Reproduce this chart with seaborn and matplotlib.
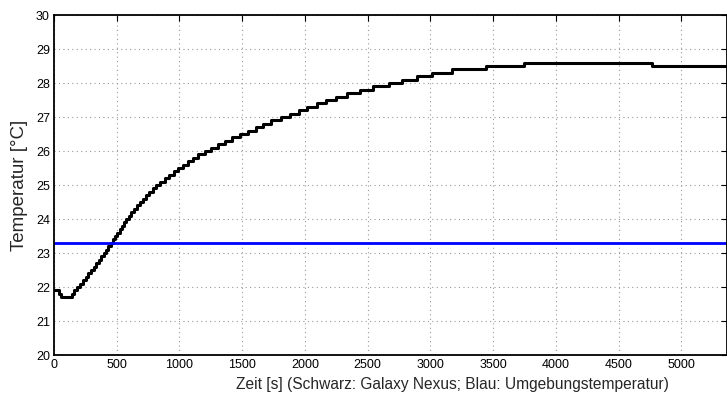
import matplotlib
matplotlib.use("Agg")
import matplotlib.pyplot as plt
from matplotlib import font_manager
import seaborn as sns
import pandas as pd

# Phone temperature, logged in 0.1 °C steps: time [s] at which each new reading starts
step_times = [0, 37, 53, 141, 162, 185,
              210, 231, 252, 273, 294, 315, 336, 356, 376, 396,
              414, 432, 451, 469, 488, 506, 524, 542, 560, 577,
              596, 616, 638, 660, 683, 707, 732, 758, 786, 815,
              848, 882, 917, 953, 990, 1028, 1067, 1108, 1150, 1205,
              1255, 1305, 1360, 1420, 1480, 1545, 1611,
              1664, 1728, 1808, 1877, 1956, 2020, 2100, 2169, 2249, 2339,
              2435, 2546, 2674, 2772, 2892, 3011, 3171, 3445, 3748, 4766, 5360]
step_temps = [21.9, 21.8, 21.7, 21.8, 21.9, 22.0,
              22.1, 22.2, 22.3, 22.4, 22.5, 22.6, 22.7, 22.8, 22.9, 23.0,
              23.1, 23.2, 23.3, 23.4, 23.5, 23.6, 23.7, 23.8, 23.9, 24.0,
              24.1, 24.2, 24.3, 24.4, 24.5, 24.6, 24.7, 24.8, 24.9, 25.0,
              25.1, 25.2, 25.3, 25.4, 25.5, 25.6, 25.7, 25.8, 25.9, 26.0,
              26.1, 26.2, 26.3, 26.4, 26.5, 26.6, 26.7,
              26.8, 26.9, 27.0, 27.1, 27.2, 27.3, 27.4, 27.5, 27.6, 27.7,
              27.8, 27.9, 28.0, 28.1, 28.2, 28.3, 28.4, 28.5, 28.6, 28.5, 28.5]

# Ambient temperature, constant over the run
ambient_times = [0, 5360]
ambient_temps = [23.3, 23.3]

x_ticks = [0, 500, 1000, 1500, 2000, 2500, 3000, 3500, 4000, 4500, 5000]
y_ticks = [20, 21, 22, 23, 24, 25, 26, 27, 28, 29, 30]

phone = pd.DataFrame({"t": step_times, "temp": step_temps})
ambient = pd.DataFrame({"t": ambient_times, "temp": ambient_temps})

sns.set_style("white")
plt.rcParams["font.family"] = ["Liberation Sans", "DejaVu Sans"]

installed = {f.name for f in font_manager.fontManager.ttflist}
if "Liberation Sans Narrow" in installed:
    xlabel_font = dict(family=["Liberation Sans Narrow", "Liberation Sans"], fontsize=13)
else:
    xlabel_font = dict(family=["Liberation Sans", "DejaVu Sans"], fontsize=11.2)

fig = plt.figure(figsize=(7.27, 3.96), dpi=100)
ax = fig.add_axes([54 / 727, 1 - 355 / 396, 672.5 / 727, 340 / 396])

sns.lineplot(data=phone, x="t", y="temp", ax=ax, color="black",
             linewidth=2.2, drawstyle="steps-post", estimator=None, sort=False)
sns.lineplot(data=ambient, x="t", y="temp", ax=ax, color="#0000ff",
             linewidth=2.0, estimator=None)

ax.set_xlim(0, 5360)
ax.set_ylim(20, 30)
ax.set_xticks(x_ticks)
ax.set_yticks(y_ticks)
ax.set_xticklabels([str(v) for v in x_ticks])
ax.set_yticklabels([str(v) for v in y_ticks])

ax.grid(True, linestyle=(0, (1, 3)), color="#999999", linewidth=0.8)
ax.tick_params(direction="in", length=4, width=0.8, labelsize=9,
               top=True, right=True, colors="black", pad=3)
for side in ax.spines.values():
    side.set_visible(True)
    side.set_color("black")
    side.set_linewidth(1.3)

ax.set_xlabel("Zeit [s] (Schwarz: Galaxy Nexus; Blau: Umgebungstemperatur)",
              **xlabel_font)
ax.xaxis.set_label_coords(0.592, -0.066)
ax.set_ylabel("Temperatur [°C]", fontsize=13.5)
ax.yaxis.set_label_coords(-0.039, 0.5)

fig.savefig("out.png", dpi=100)
